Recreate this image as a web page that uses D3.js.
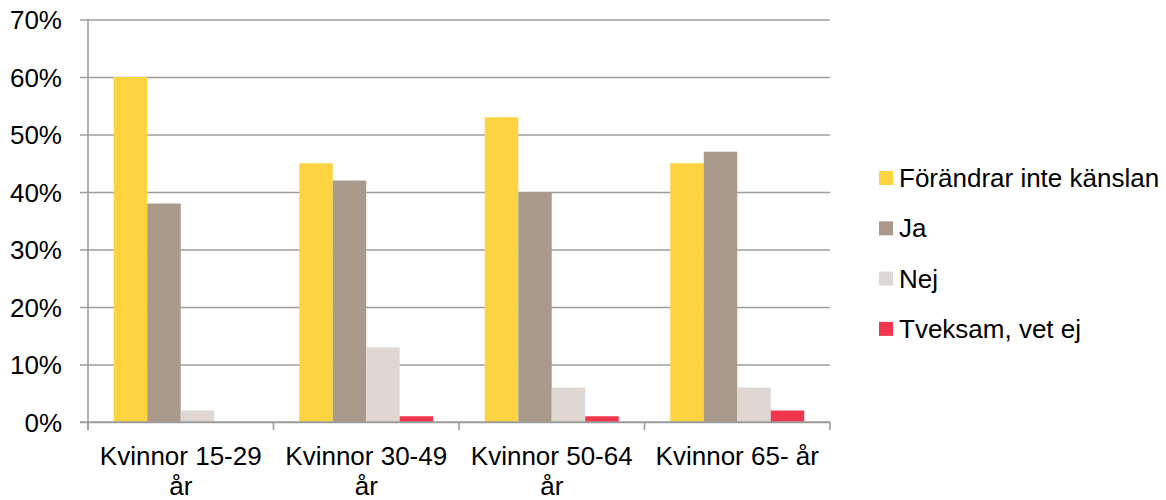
<!DOCTYPE html>
<html>
<head>
<meta charset="utf-8">
<script src="https://cdn.jsdelivr.net/npm/d3@7"></script>
<style>
  body { margin: 0; background: #fff; }
  text { font-family: "Liberation Sans", Arial, sans-serif; fill: #000; }
</style>
</head>
<body>
<div id="chart"></div>
<script>
var categories = ["Kvinnor 15-29 år", "Kvinnor 30-49 år", "Kvinnor 50-64 år", "Kvinnor 65- år"];
var seriesNames = ["Förändrar inte känslan", "Ja", "Nej", "Tveksam, vet ej"];
var seriesColors = ["#FDD43F", "#AA9A8C", "#DFD8D2", "#F2364D"];
var forandrarInte = [0.60, 0.45, 0.53, 0.45];
var ja = [0.38, 0.42, 0.40, 0.47];
var nej = [0.02, 0.13, 0.06, 0.06];
var tveksam = [0.00, 0.01, 0.01, 0.02];
var yTicks = [0, 0.1, 0.2, 0.3, 0.4, 0.5, 0.6, 0.7];

var seriesValues = [forandrarInte, ja, nej, tveksam];

var svgWidth = 1166;
var svgHeight = 500;
var plot = { left: 88, right: 830, top: 19.5, bottom: 422 };

var svg = d3.select("#chart")
  .append("svg")
  .attr("width", svgWidth)
  .attr("height", svgHeight);

var x0 = d3.scaleBand()
  .domain(categories)
  .range([plot.left, plot.right])
  .padding(0);

var x1 = d3.scaleBand()
  .domain(seriesNames)
  .range([0, x0.bandwidth()])
  .paddingInner(0)
  .paddingOuter(0.77);

var y = d3.scaleLinear()
  .domain([0, 0.7])
  .range([plot.bottom, plot.top]);

// gridlines + y labels
var leftAxis = d3.axisLeft(y)
  .tickValues(yTicks)
  .tickFormat(d3.format(".0%"))
  .tickSizeInner(-(plot.right - plot.left))
  .tickSizeOuter(0)
  .tickPadding(26);

var yAxisG = svg.append("g")
  .attr("transform", `translate(${plot.left},0)`)
  .call(leftAxis);
yAxisG.select(".domain").remove();
yAxisG.selectAll(".tick line")
  .attr("x1", -8)
  .attr("stroke", "#9d9d9d")
  .attr("stroke-width", 1.6);
yAxisG.selectAll(".tick text")
  .attr("font-size", "26px")
  .attr("font-family", "Liberation Sans, Arial, sans-serif")
  .attr("fill", "#000")
  .attr("dy", "0.36em");

// vertical axis line
svg.append("line")
  .attr("x1", plot.left).attr("x2", plot.left)
  .attr("y1", plot.top).attr("y2", plot.bottom + 8)
  .attr("stroke", "#9d9d9d")
  .attr("stroke-width", 1.6);

// bars
var groups = svg.append("g")
  .selectAll("g")
  .data(categories)
  .enter()
  .append("g")
  .attr("transform", d => `translate(${x0(d)},0)`);

groups.selectAll("rect")
  .data((d, i) => seriesNames.map((s, j) => ({ s: s, v: seriesValues[j][i], c: seriesColors[j] })))
  .enter()
  .append("rect")
  .attr("x", d => x1(d.s))
  .attr("y", d => y(d.v))
  .attr("width", x1.bandwidth())
  .attr("height", d => y(0) - y(d.v))
  .attr("fill", d => d.c);

// x axis line and separator ticks
svg.append("line")
  .attr("x1", plot.left - 8).attr("x2", plot.right)
  .attr("y1", plot.bottom).attr("y2", plot.bottom)
  .attr("stroke", "#9d9d9d")
  .attr("stroke-width", 1.6);

var bounds = categories.map(c => x0(c)).concat([plot.right]);
svg.append("g")
  .selectAll("line")
  .data(bounds)
  .enter()
  .append("line")
  .attr("x1", d => d).attr("x2", d => d)
  .attr("y1", plot.bottom).attr("y2", plot.bottom + 8)
  .attr("stroke", "#9d9d9d")
  .attr("stroke-width", 1.6);

// category labels
var bottomAxis = d3.axisBottom(x0).tickSize(0).tickPadding(0);
var xAxisG = svg.append("g")
  .attr("transform", `translate(0,${plot.bottom})`)
  .call(bottomAxis);
xAxisG.select(".domain").remove();
xAxisG.selectAll(".tick text")
  .attr("font-size", "26px")
  .attr("font-family", "Liberation Sans, Arial, sans-serif")
  .attr("fill", "#000")
  .attr("y", 43)
  .attr("dy", 0)
  .call(wrap, 180);

function wrap(texts, width) {
  texts.each(function() {
    var text = d3.select(this);
    var words = text.text().split(/\s+/);
    var yPos = text.attr("y");
    var line = [];
    var lineNumber = 0;
    var tspan = text.text(null).append("tspan").attr("x", 0).attr("y", yPos);
    words.forEach(function(word) {
      line.push(word);
      tspan.text(line.join(" "));
      if (tspan.node().getComputedTextLength() > width && line.length > 1) {
        line.pop();
        tspan.text(line.join(" "));
        line = [word];
        lineNumber++;
        tspan = text.append("tspan").attr("x", 0).attr("y", +yPos + lineNumber * 30).text(word);
      }
    });
  });
}

// legend
var legend = svg.append("g")
  .selectAll("g")
  .data(seriesNames)
  .enter()
  .append("g")
  .attr("transform", (d, i) => `translate(879,${171 + i * 50.3})`);

legend.append("rect")
  .attr("width", 14)
  .attr("height", 14)
  .attr("fill", (d, i) => seriesColors[i]);

legend.append("text")
  .attr("x", 20)
  .attr("y", 16)
  .attr("font-size", "26px")
  .text(d => d);
</script>
</body>
</html>
